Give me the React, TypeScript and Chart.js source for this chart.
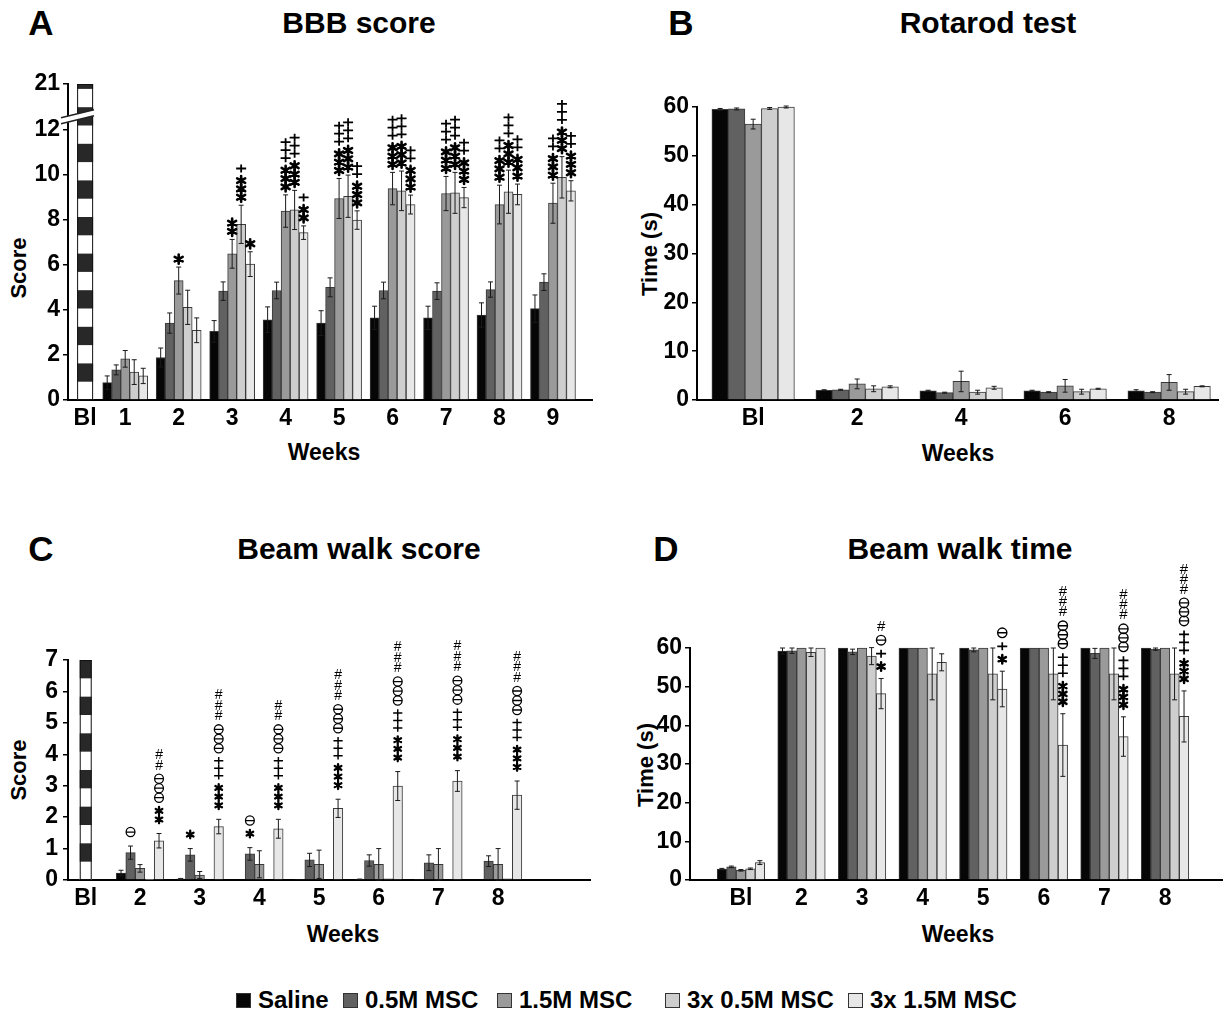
import React, { useEffect, useRef } from 'react';
import { Chart, registerables } from 'chart.js';

Chart.register(...registerables);

const FONT = '"Liberation Sans", Arial, Helvetica, sans-serif';

const SERIES = ['Saline', '0.5M MSC', '1.5M MSC', '3x 0.5M MSC', '3x 1.5M MSC'];
const COLORS = ['#060606', '#616161', '#9a9a9a', '#cecece', '#e7e7e7'];
const BAR_BORDER = '#3a3a3a';

// ---------- A: BBB score ----------
const bbbWeeks = [1, 2, 3, 4, 5, 6, 7, 8, 9];
const bbbXLabels = ['Bl', '1', '2', '3', '4', '5', '6', '7', '8', '9'];
const BBB_BL_POS = 0.25;
const BBB_BL_SCORE = 21;
const bbbYTicks = [0, 2, 4, 6, 8, 10, 12, 21];
const bbbSaline = [0.77, 1.89, 3.05, 3.57, 3.42, 3.65, 3.65, 3.78, 4.06];
const bbbSalineErr = [0.3, 0.42, 0.48, 0.57, 0.55, 0.52, 0.52, 0.54, 0.61];
const bbb05 = [1.34, 3.42, 4.84, 4.87, 5.01, 4.87, 4.84, 4.91, 5.24];
const bbb05Err = [0.22, 0.45, 0.41, 0.37, 0.42, 0.37, 0.37, 0.34, 0.37];
const bbb15 = [1.83, 5.31, 6.5, 8.4, 8.96, 9.4, 9.18, 8.69, 8.75];
const bbb15Err = [0.37, 0.6, 0.64, 0.72, 0.89, 0.72, 0.76, 0.86, 0.89];
const bbb3x05 = [1.24, 4.12, 7.81, 8.45, 9.06, 9.3, 9.21, 9.26, 9.9];
const bbb3x05Err = [0.55, 0.76, 0.85, 0.87, 0.94, 0.88, 0.91, 0.96, 0.92];
const bbb3x15 = [1.07, 3.1, 6.04, 7.44, 8.0, 8.69, 9.0, 9.14, 9.3];
const bbb3x15Err = [0.34, 0.55, 0.55, 0.3, 0.41, 0.42, 0.45, 0.46, 0.45];
const bbbSig15 = ['', '*', '**', '***+++', '***+++', '***+++', '***+++', '***++', '***++'];
const bbbSig3x05 = ['', '', '***+', '***+++', '***+++', '***+++', '***+++', '***+++', '***+++'];
const bbbSig3x15 = ['', '', '*', '**+', '***++', '***++', '***++', '***++', '***++'];

// ---------- B: Rotarod ----------
const rotWeeks = [0, 2, 4, 6, 8];
const rotXLabels = ['Bl', '2', '4', '6', '8'];
const rotSaline = [59.5, 2.0, 1.9, 1.9, 1.9];
const rotSalineErr = [0.2, 0.1, 0.1, 0.1, 0.2];
const rot05 = [59.6, 2.1, 1.5, 1.6, 1.6];
const rot05Err = [0.2, 0.1, 0.1, 0.1, 0.1];
const rot15 = [56.5, 3.3, 3.8, 2.9, 3.6];
const rot15Err = [1.0, 1.0, 2.1, 1.3, 1.6];
const rot3x05 = [59.7, 2.3, 1.6, 1.7, 1.7];
const rot3x05Err = [0.2, 0.6, 0.4, 0.5, 0.5];
const rot3x15 = [60.0, 2.7, 2.5, 2.3, 2.8];
const rot3x15Err = [0.2, 0.2, 0.3, 0.1, 0.1];

// ---------- C: Beam walk score ----------
const bwsWeeks = [2, 3, 4, 5, 6, 7, 8];
const bwsXLabels = ['Bl', '2', '3', '4', '5', '6', '7', '8'];
const BWS_BL_POS = 1.09;
const BWS_BL_SCORE = 7;
const bwsSaline = [0.22, 0.03, 0, 0.02, 0.02, 0.01, 0];
const bwsSalineErr = [0.09, 0.02, 0, 0, 0.01, 0, 0];
const bws05 = [0.87, 0.8, 0.83, 0.64, 0.62, 0.55, 0.6];
const bws05Err = [0.21, 0.2, 0.2, 0.21, 0.18, 0.25, 0.17];
const bws15 = [0.37, 0.16, 0.5, 0.5, 0.5, 0.5, 0.5];
const bws15Err = [0.12, 0.11, 0.43, 0.45, 0.5, 0.5, 0.5];
const bws3x05 = [0.02, 0, 0, 0, 0.04, 0, 0.04];
const bws3x05Err = [0, 0, 0, 0, 0, 0, 0];
const bws3x15 = [1.25, 1.7, 1.63, 2.28, 2.99, 3.15, 2.7];
const bws3x15Err = [0.23, 0.23, 0.3, 0.29, 0.46, 0.33, 0.45];
const bwsSig05 = ['o', '*', '*o', '', '', '', ''];
const bwsSig3x15 = ['**ooo##', '***+++ooo###', '***+++ooo##', '***+++ooo###', '***+++ooo###', '***+++ooo###', '***+++ooo###'];

// ---------- D: Beam walk time ----------
const bwtWeeks = [1, 2, 3, 4, 5, 6, 7, 8];
const bwtXLabels = ['Bl', '2', '3', '4', '5', '6', '7', '8'];
const bwtSaline = [2.8, 59.2, 60, 60, 60, 60, 60, 60];
const bwtSalineErr = [0.2, 0.8, 0, 0, 0, 0, 0, 0];
const bwt05 = [3.4, 59.3, 59.0, 60, 59.5, 60, 58.6, 59.7];
const bwt05Err = [0.2, 0.7, 0.7, 0, 0.5, 0, 1.3, 0.3];
const bwt15 = [2.5, 60, 60, 60, 60, 60, 60, 60];
const bwt15Err = [0.2, 0, 0, 0, 0, 0, 0, 0];
const bwt3x05 = [2.9, 58.9, 57.9, 53.3, 53.3, 53.3, 53.3, 53.3];
const bwt3x05Err = [0.2, 1.1, 2.2, 6.7, 6.7, 6.7, 6.7, 6.7];
const bwt3x15 = [4.5, 60, 48.2, 56.3, 49.4, 34.9, 37.1, 42.3];
const bwt3x15Err = [0.5, 0, 3.9, 2.2, 4.6, 8.1, 5.1, 6.6];
const bwtSig3x15 = ['', '', '*+o#', '', '*+o', '***+++ooo###', '***+++ooo###', '***+++ooo###'];

type Sym = {
  star: { r: number; lw: number; step: number };
  cross: { hw: number; lw: number; step: number };
  theta: { rx: number; ry: number; lw: number; step: number };
  hash: { size: number; step: number };
  typeGap: number;
};

type SeriesSpec = { values: number[]; errors: number[]; sig?: string[] };

type Panel = {
  weeks: number[];
  xTicks: number[];
  xLabels: string[];
  xMin: number;
  xMax: number;
  yMin: number;
  yMax: number;
  yTicks: number[];
  map: (v: number) => number;
  series: SeriesSpec[];
  bl?: { pos: number; value: number; thickness: number };
  barThickness: number;
  padding: { top: number; right: number; bottom: number; left: number };
  yWidth: number;
  xHeight: number;
  yTickPad: number;
  sigGap: number;
  sym: Sym;
  breakAt?: number;
  stripeSeg: number;
};

const id = (v: number) => v;
const bbbMap = (v: number) => (v <= 12 ? v : 12 + (v - 12) * (2.05 / 9));

const SYM_A: Sym = {
  star: { r: 4.6, lw: 2.6, step: 8.3 },
  cross: { hw: 5, lw: 1.8, step: 8 },
  theta: { rx: 4.3, ry: 4.5, lw: 1.3, step: 9 },
  hash: { size: 13, step: 9.5 },
  typeGap: 4,
};
const SYM_C: Sym = {
  star: { r: 3.8, lw: 2.3, step: 8.7 },
  cross: { hw: 4.6, lw: 1.5, step: 7.5 },
  theta: { rx: 4.4, ry: 4.6, lw: 1.3, step: 9.5 },
  hash: { size: 14, step: 10.5 },
  typeGap: 4,
};
const SYM_D: Sym = {
  star: { r: 4.2, lw: 2.5, step: 7.8 },
  cross: { hw: 5, lw: 1.7, step: 8 },
  theta: { rx: 4.6, ry: 4.8, lw: 1.4, step: 9 },
  hash: { size: 15, step: 10 },
  typeGap: 5,
};

function stepOf(ch: string, s: Sym) {
  if (ch === '*') return s.star.step;
  if (ch === '+') return s.cross.step;
  if (ch === 'o') return s.theta.step;
  return s.hash.step;
}

function drawSymbol(ctx: CanvasRenderingContext2D, ch: string, cx: number, cy: number, s: Sym) {
  ctx.strokeStyle = '#000';
  ctx.fillStyle = '#000';
  if (ch === '*') {
    const { r, lw } = s.star;
    ctx.lineWidth = lw;
    ctx.lineCap = 'round';
    ctx.beginPath();
    for (let a = 0; a < 3; a++) {
      const ang = Math.PI / 2 + (a * Math.PI) / 3;
      ctx.moveTo(cx - r * Math.cos(ang), cy - r * Math.sin(ang));
      ctx.lineTo(cx + r * Math.cos(ang), cy + r * Math.sin(ang));
    }
    ctx.stroke();
    ctx.beginPath();
    ctx.arc(cx, cy, lw * 0.8, 0, Math.PI * 2);
    ctx.fill();
  } else if (ch === '+') {
    const { hw, lw, step } = s.cross;
    ctx.lineWidth = lw;
    ctx.lineCap = 'butt';
    ctx.beginPath();
    ctx.moveTo(cx, cy - step / 2);
    ctx.lineTo(cx, cy + step / 2);
    ctx.moveTo(cx - hw, cy);
    ctx.lineTo(cx + hw, cy);
    ctx.stroke();
  } else if (ch === 'o') {
    const { rx, ry, lw } = s.theta;
    ctx.lineWidth = lw;
    ctx.beginPath();
    ctx.ellipse(cx, cy, rx, ry, 0, 0, Math.PI * 2);
    ctx.moveTo(cx - rx, cy);
    ctx.lineTo(cx + rx, cy);
    ctx.stroke();
  } else if (ch === '#') {
    ctx.font = `${s.hash.size}px ${FONT}`;
    ctx.textAlign = 'center';
    ctx.textBaseline = 'middle';
    ctx.fillText('#', cx, cy + 1);
  }
}

function makeDecor(p: Panel) {
  return {
    id: 'decor',
    afterDatasetsDraw(chart: any) {
      const ctx: CanvasRenderingContext2D = chart.ctx;
      const ys = chart.scales.y;
      const xs = chart.scales.x;
      ctx.save();
      // striped baseline bar (value drawn through the chart's scales)
      if (p.bl) {
        const cx = xs.getPixelForValue(p.bl.pos);
        const base = ys.getPixelForValue(0);
        const top = ys.getPixelForValue(p.map(p.bl.value));
        const width = p.bl.thickness;
        const left = cx - width / 2;
        ctx.fillStyle = '#fff';
        ctx.fillRect(left, top, width, base - top);
        let k = 0;
        for (let b = base; b > top + 0.5; b -= p.stripeSeg, k++) {
          const t = Math.max(top, b - p.stripeSeg);
          if (k % 2 === 1) {
            ctx.fillStyle = '#282828';
            ctx.fillRect(left, t, width, b - t);
          }
        }
        ctx.strokeStyle = '#111';
        ctx.lineWidth = 1;
        ctx.strokeRect(left + 0.5, top + 0.5, width - 1, base - top - 1);
      }
      // axis break
      if (p.breakAt != null) {
        const yb = ys.getPixelForValue(p.breakAt);
        const xL = chart.chartArea.left - 7;
        const xR = chart.chartArea.left + 26;
        ctx.fillStyle = '#fff';
        ctx.beginPath();
        ctx.moveTo(xL, yb + 6);
        ctx.lineTo(xR, yb - 2);
        ctx.lineTo(xR, yb - 8);
        ctx.lineTo(xL, yb);
        ctx.closePath();
        ctx.fill();
        ctx.strokeStyle = '#222';
        ctx.lineWidth = 1.4;
        ctx.beginPath();
        ctx.moveTo(xL, yb + 6);
        ctx.lineTo(xR, yb - 2);
        ctx.moveTo(xL, yb);
        ctx.lineTo(xR, yb - 8);
        ctx.stroke();
      }
      // error bars and significance marks
      chart.data.datasets.forEach((ds: any, di: number) => {
        if (!ds.errors) return;
        const meta = chart.getDatasetMeta(di);
        meta.data.forEach((el: any, j: number) => {
          const v = ds.values[j];
          const e = ds.errors[j];
          const cx = el.x;
          const yTop = ys.getPixelForValue(p.map(v + e));
          if (e > 0) {
            const yBot = ys.getPixelForValue(p.map(Math.max(0, v - e)));
            ctx.strokeStyle = '#1a1a1a';
            ctx.lineWidth = 1;
            ctx.lineCap = 'butt';
            ctx.beginPath();
            ctx.moveTo(cx, yTop);
            ctx.lineTo(cx, yBot);
            ctx.moveTo(cx - 2.5, yTop);
            ctx.lineTo(cx + 2.5, yTop);
            ctx.moveTo(cx - 2.5, yBot);
            ctx.lineTo(cx + 2.5, yBot);
            ctx.stroke();
          }
          const sig = ds.sig ? ds.sig[j] : '';
          if (sig) {
            let cy = yTop - p.sigGap;
            let prev = '';
            for (const ch of sig) {
              if (prev) {
                cy -= (stepOf(prev, p.sym) + stepOf(ch, p.sym)) / 2;
                if (prev !== ch) cy -= p.sym.typeGap;
              }
              drawSymbol(ctx, ch, cx, cy, p.sym);
              prev = ch;
            }
          }
        });
      });
      ctx.restore();
    },
  };
}

function buildConfig(p: Panel): any {
  const tickFont = { family: FONT, size: 23, weight: 'bold' as const };
  const datasets: any[] = p.series.map((s, i) => ({
    label: SERIES[i],
    data: p.weeks.map((w, j) => ({ x: w, y: p.map(s.values[j]) })),
    values: s.values,
    errors: s.errors,
    sig: s.sig,
    backgroundColor: COLORS[i],
    borderColor: BAR_BORDER,
    borderWidth: 1,
    barThickness: p.barThickness,
    clip: false,
  }));
  return {
    type: 'bar',
    data: { datasets },
    plugins: [makeDecor(p)],
    options: {
      animation: false,
      responsive: false,
      maintainAspectRatio: false,
      devicePixelRatio: 1,
      layout: { padding: p.padding },
      plugins: { legend: { display: false }, tooltip: { enabled: false } },
      scales: {
        x: {
          type: 'linear',
          min: p.xMin,
          max: p.xMax,
          offset: false,
          grid: { display: false, drawTicks: false },
          border: { display: true, color: '#000', width: 2 },
          afterBuildTicks: (s: any) => {
            s.ticks = p.xTicks.map((v) => ({ value: v }));
          },
          afterFit: (s: any) => {
            s.height = p.xHeight;
          },
          ticks: {
            autoSkip: false,
            maxRotation: 0,
            padding: 5,
            color: '#000',
            font: tickFont,
            callback: (_v: any, i: number) => p.xLabels[i],
          },
        },
        y: {
          type: 'linear',
          min: p.yMin,
          max: p.yMax,
          afterBuildTicks: (s: any) => {
            s.ticks = p.yTicks.map((v) => ({ value: p.map(v) }));
          },
          afterFit: (s: any) => {
            s.width = p.yWidth;
          },
          grid: {
            display: true,
            drawOnChartArea: false,
            drawTicks: true,
            tickLength: 5,
            color: '#000',
            tickColor: '#000',
            lineWidth: 1.5,
          },
          border: { display: true, color: '#000', width: 2 },
          ticks: {
            padding: p.yTickPad,
            color: '#000',
            font: tickFont,
            callback: (_v: any, i: number) => String(p.yTicks[i]),
          },
        },
      },
    },
  };
}

const panelA: Panel = {
  weeks: bbbWeeks,
  xTicks: [BBB_BL_POS, ...bbbWeeks],
  xLabels: bbbXLabels,
  xMin: -0.07,
  xMax: 9.73,
  yMin: 0,
  yMax: bbbMap(21),
  yTicks: bbbYTicks,
  map: bbbMap,
  series: [
    { values: bbbSaline, errors: bbbSalineErr },
    { values: bbb05, errors: bbb05Err },
    { values: bbb15, errors: bbb15Err, sig: bbbSig15 },
    { values: bbb3x05, errors: bbb3x05Err, sig: bbbSig3x05 },
    { values: bbb3x15, errors: bbb3x15Err, sig: bbbSig3x15 },
  ],
  bl: { pos: BBB_BL_POS, value: BBB_BL_SCORE, thickness: 16 },
  barThickness: 9,
  padding: { top: 44, right: 23, bottom: 0, left: 0 },
  yWidth: 68,
  xHeight: 80,
  yTickPad: 3,
  sigGap: 8,
  sym: SYM_A,
  breakAt: 12.55,
  stripeSeg: 18.3,
};

const panelB: Panel = {
  weeks: rotWeeks,
  xTicks: rotWeeks,
  xLabels: rotXLabels,
  xMin: -1.08,
  xMax: 8.94,
  yMin: 0,
  yMax: 60,
  yTicks: [0, 10, 20, 30, 40, 50, 60],
  map: id,
  series: [
    { values: rotSaline, errors: rotSalineErr },
    { values: rot05, errors: rot05Err },
    { values: rot15, errors: rot15Err },
    { values: rot3x05, errors: rot3x05Err },
    { values: rot3x15, errors: rot3x15Err },
  ],
  barThickness: 16.5,
  padding: { top: 67, right: 9, bottom: 0, left: 0 },
  yWidth: 82,
  xHeight: 80,
  yTickPad: 3,
  sigGap: 10,
  sym: SYM_D,
  stripeSeg: 18.3,
};

const panelC: Panel = {
  weeks: bwsWeeks,
  xTicks: [BWS_BL_POS, ...bwsWeeks],
  xLabels: bwsXLabels,
  xMin: 0.793,
  xMax: 9.54,
  yMin: 0,
  yMax: 7,
  yTicks: [0, 1, 2, 3, 4, 5, 6, 7],
  map: id,
  series: [
    { values: bwsSaline, errors: bwsSalineErr },
    { values: bws05, errors: bws05Err, sig: bwsSig05 },
    { values: bws15, errors: bws15Err },
    { values: bws3x05, errors: bws3x05Err },
    { values: bws3x15, errors: bws3x15Err, sig: bwsSig3x15 },
  ],
  bl: { pos: BWS_BL_POS, value: BWS_BL_SCORE, thickness: 12 },
  barThickness: 9.5,
  padding: { top: 140, right: 25, bottom: 0, left: 0 },
  yWidth: 68,
  xHeight: 80,
  yTickPad: 5,
  sigGap: 14,
  sym: SYM_C,
  stripeSeg: 220 / 12,
};

const panelD: Panel = {
  weeks: bwtWeeks,
  xTicks: bwtWeeks,
  xLabels: bwtXLabels,
  xMin: 0.16,
  xMax: 8.94,
  yMin: 0,
  yMax: 60,
  yTicks: [0, 10, 20, 30, 40, 50, 60],
  map: id,
  series: [
    { values: bwtSaline, errors: bwtSalineErr },
    { values: bwt05, errors: bwt05Err },
    { values: bwt15, errors: bwt15Err },
    { values: bwt3x05, errors: bwt3x05Err },
    { values: bwt3x15, errors: bwt3x15Err, sig: bwtSig3x15 },
  ],
  barThickness: 9.5,
  padding: { top: 128, right: 5, bottom: 0, left: 0 },
  yWidth: 75,
  xHeight: 80,
  yTickPad: 3,
  sigGap: 12,
  sym: SYM_D,
  stripeSeg: 18.3,
};

function ChartBox({ panel, left, top, width, height }: { panel: Panel; left: number; top: number; width: number; height: number }) {
  const ref = useRef<HTMLCanvasElement | null>(null);
  useEffect(() => {
    if (!ref.current) return;
    const chart = new Chart(ref.current, buildConfig(panel));
    return () => chart.destroy();
  }, [panel]);
  return (
    <canvas
      ref={ref}
      width={width}
      height={height}
      style={{ position: 'absolute', left, top, width, height }}
    />
  );
}

function Text({ x, y, size, children, rotate }: { x: number; y: number; size: number; children: React.ReactNode; rotate?: boolean }) {
  return (
    <div
      style={{
        position: 'absolute',
        left: x,
        top: y,
        transform: `translate(-50%, -50%)${rotate ? ' rotate(-90deg)' : ''}`,
        font: `bold ${size}px ${FONT}`,
        color: '#000',
        whiteSpace: 'nowrap',
        lineHeight: 1,
      }}
    >
      {children}
    </div>
  );
}

const legendLeft = [236, 343, 497, 665, 848];

export default function App() {
  return (
    <div style={{ position: 'absolute', left: 0, top: 0, width: 1227, height: 1014, background: '#fff', overflow: 'hidden' }}>
      <Text x={41} y={22} size={35}>A</Text>
      <Text x={359} y={23} size={30}>BBB score</Text>
      <Text x={681} y={22} size={35}>B</Text>
      <Text x={988} y={23} size={30}>Rotarod test</Text>
      <Text x={41} y={548} size={35}>C</Text>
      <Text x={359} y={549} size={30}>Beam walk score</Text>
      <Text x={666} y={548} size={35}>D</Text>
      <Text x={960} y={549} size={30}>Beam walk time</Text>

      <Text x={19} y={268} size={22} rotate>Score</Text>
      <Text x={650} y={254} size={22} rotate>Time (s)</Text>
      <Text x={19} y={770} size={22} rotate>Score</Text>
      <Text x={646} y={765} size={22} rotate>Time (s)</Text>

      <Text x={324} y={452} size={23}>Weeks</Text>
      <Text x={958} y={453} size={23}>Weeks</Text>
      <Text x={343} y={934} size={23}>Weeks</Text>
      <Text x={958} y={934} size={23}>Weeks</Text>

      <ChartBox panel={panelA} left={0} top={40} width={615} height={440} />
      <ChartBox panel={panelB} left={615} top={40} width={612} height={440} />
      <ChartBox panel={panelC} left={0} top={520} width={615} height={440} />
      <ChartBox panel={panelD} left={615} top={520} width={612} height={440} />

      {SERIES.map((s, i) => (
        <div
          key={s}
          style={{
            position: 'absolute',
            left: legendLeft[i],
            top: 987,
            display: 'flex',
            alignItems: 'center',
            font: `bold 24px ${FONT}`,
            color: '#000',
            whiteSpace: 'nowrap',
            lineHeight: '26px',
          }}
        >
          <span
            style={{
              display: 'inline-block',
              width: 13,
              height: 13,
              background: COLORS[i],
              border: '1px solid #333',
              marginRight: 7,
            }}
          />
          {s}
        </div>
      ))}
    </div>
  );
}
